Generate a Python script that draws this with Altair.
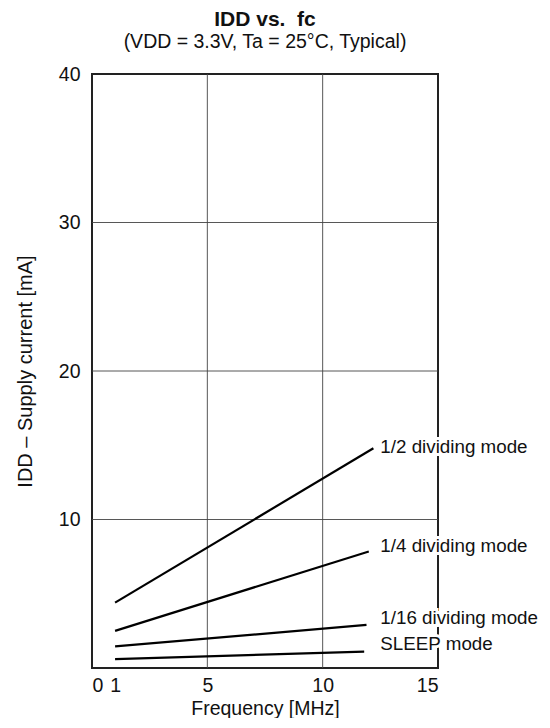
import altair as alt
import pandas as pd

FONT = "Liberation Sans"
FS = 19.5
LFS = 18.8

modes = ["1/2 dividing mode", "1/4 dividing mode", "1/16 dividing mode", "SLEEP mode"]
# start / end frequency of each line [MHz]
f_start = [1, 1, 1, 1]
f_end = [12.2, 12, 11.9, 11.8]
# supply current at start / end [mA]
i_start = [4.4, 2.5, 1.45, 0.6]
i_end = [14.8, 7.85, 2.9, 1.1]

label_x = [12.5, 12.5, 12.5, 12.5]
label_y = [14.85, 8.2, 3.4, 1.6]

x_ticks = [0, 1, 5, 10, 15]
y_ticks = [10, 20, 30, 40]
x_grid = [5, 10]
y_grid = [10, 20, 30]

rows = []
for k, name in enumerate(modes):
    rows.append({"mode": name, "f": f_start[k], "i": i_start[k]})
    rows.append({"mode": name, "f": f_end[k], "i": i_end[k]})
lines_df = pd.DataFrame(rows)
labels_df = pd.DataFrame({"mode": modes, "x": label_x, "y": label_y})

xs = alt.Scale(domain=[0, 15], nice=False, zero=False)
ys = alt.Scale(domain=[0, 40], nice=False)

x_axis = alt.Axis(values=x_ticks, grid=False, ticks=False, domain=False,
                  labelFontSize=FS, labelFont=FONT, labelColor="#111", labelPadding=8,
                  title="Frequency [MHz]", titleFontSize=FS, titleFont=FONT,
                  titleFontWeight="normal", titleColor="#111", titlePadding=5)
y_axis = alt.Axis(values=y_ticks, grid=False, ticks=False, domain=False,
                  labelFontSize=FS, labelFont=FONT, labelColor="#111", labelPadding=12,
                  title="IDD – Supply current [mA]", titleFontSize=20, titleFont=FONT,
                  titleFontWeight="normal", titleColor="#111", titlePadding=23)

vgrid = alt.Chart(pd.DataFrame({"g": x_grid})).mark_rule(color="#444", strokeWidth=0.9).encode(
    x=alt.X("g:Q", scale=xs, axis=x_axis)
)
hgrid = alt.Chart(pd.DataFrame({"g": y_grid})).mark_rule(color="#444", strokeWidth=0.9).encode(
    y=alt.Y("g:Q", scale=ys, axis=y_axis)
)

lines = alt.Chart(lines_df).mark_line(color="black", strokeWidth=2.2).encode(
    x=alt.X("f:Q", scale=xs),
    y=alt.Y("i:Q", scale=ys),
    detail="mode:N",
)

halo = alt.Chart(labels_df).mark_text(
    align="left", baseline="middle", fontSize=LFS, font=FONT,
    stroke="white", strokeWidth=6, color="white"
).encode(x=alt.X("x:Q", scale=xs), y=alt.Y("y:Q", scale=ys), text="mode:N")

texts = alt.Chart(labels_df).mark_text(
    align="left", baseline="middle", fontSize=LFS, font=FONT, color="#111"
).encode(x=alt.X("x:Q", scale=xs), y=alt.Y("y:Q", scale=ys), text="mode:N")

chart = alt.layer(vgrid, hgrid, lines, halo, texts).properties(
    width=346, height=594,
    padding={"left": 7, "top": 0, "right": 0, "bottom": 0},
    title=alt.TitleParams(
        "IDD vs.\u00a0 fc",
        subtitle="(VDD = 3.3V, Ta = 25°C, Typical)",
        font=FONT, fontSize=21, fontWeight="bold", color="#111",
        subtitleFont=FONT, subtitleFontSize=FS, subtitleColor="#111",
        subtitlePadding=3, anchor="middle", offset=13,
    ),
).configure_view(stroke="#222", strokeWidth=2)

chart.save("out.html", embed_options={"renderer": "svg", "actions": False})
